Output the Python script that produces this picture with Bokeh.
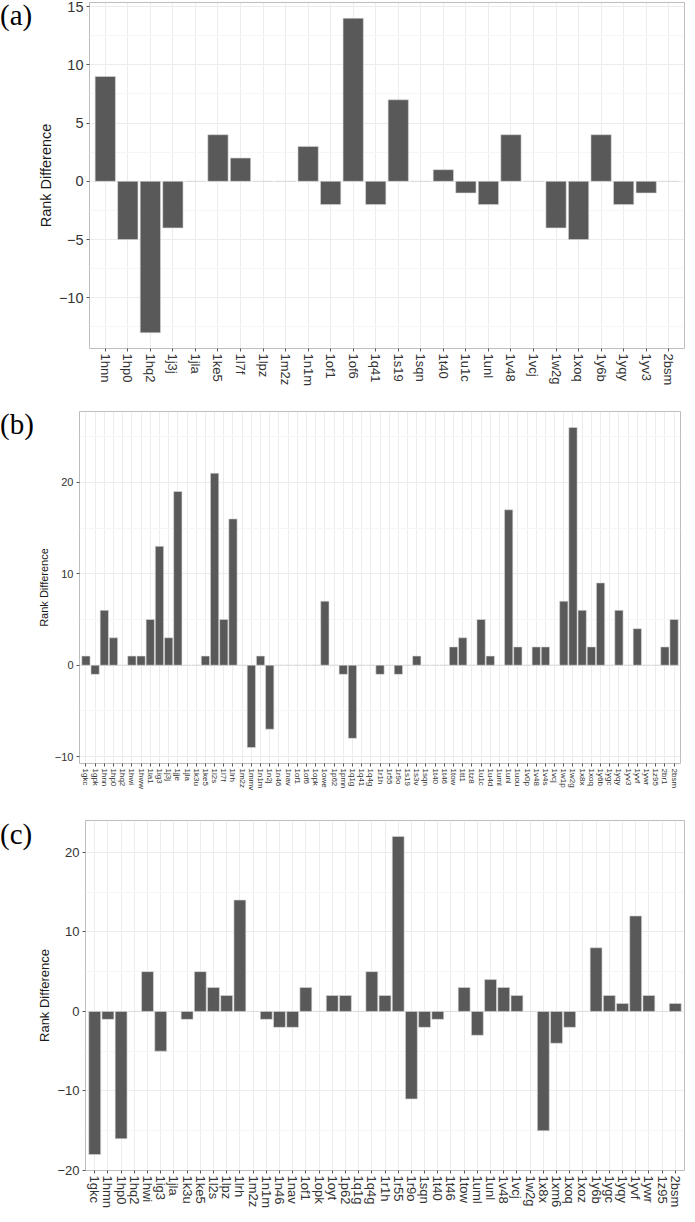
import math
from bokeh.plotting import figure
from bokeh.layouts import column, row
from bokeh.models import FactorRange, Range1d, FixedTicker, Div
from bokeh.embed import file_html
from bokeh.resources import INLINE

# ---------------- data ----------------
a_cats = ["1hnn", "1hp0", "1hq2", "1j3j", "1jla", "1ke5", "1l7f", "1lpz", "1m2z", "1n1m",
          "1of1", "1of6", "1q41", "1s19", "1sqn", "1t40", "1u1c", "1unl", "1v48", "1vcj",
          "1w2g", "1xoq", "1y6b", "1yqy", "1yv3", "2bsm"]
a_vals = [9, -5, -13, -4, 0, 4, 2, 0, 0, 3,
          -2, 14, -2, 7, 0, 1, -1, -2, 4, 0,
          -4, -5, 4, -2, -1, 0]
a_ticks = [-10, -5, 0, 5, 10, 15]
a_minor = [-12.5, -7.5, -2.5, 2.5, 7.5, 12.5]

b_cats = ["1gkc", "1gpk", "1hnn", "1hp0", "1hq2", "1hwi", "1hww", "1ia1", "1ig3", "1j3j",
          "1jje", "1jla", "1k3u", "1ke5", "1l2s", "1l7f", "1lrh", "1m2z", "1mmv", "1n1m",
          "1n2j", "1n46", "1nav", "1of1", "1of6", "1opk", "1owe", "1p62", "1pmn", "1q1g",
          "1q41", "1q4g", "1r1h", "1r55", "1r9o", "1s19", "1s3v", "1sqn", "1t40", "1t46",
          "1tow", "1tt1", "1tz8", "1u1c", "1u4d", "1uml", "1unl", "1uou", "1v0p", "1v48",
          "1v4s", "1vcj", "1w1p", "1w2g", "1x8x", "1xoq", "1y6b", "1ygc", "1yqy", "1yv3",
          "1yvf", "1ywr", "1z95", "2br1", "2bsm"]
b_vals = [1, -1, 6, 3, 0, 1, 1, 5, 13, 3,
          19, 0, 0, 1, 21, 5, 16, 0, -9, 1,
          -7, 0, 0, 0, 0, 0, 7, 0, -1, -8,
          0, 0, -1, 0, -1, 0, 1, 0, 0, 0,
          2, 3, 0, 5, 1, 0, 17, 2, 0, 2,
          2, 0, 7, 26, 6, 2, 9, 0, 6, 0,
          4, 0, 0, 2, 5]
b_ticks = [-10, 0, 10, 20]
b_minor = [-5, 5, 15, 25]

c_cats = ["1gkc", "1hmn", "1hp0", "1hq2", "1hwi", "1ig3", "1jla", "1k3u", "1ke5", "1l2s",
          "1lpz", "1lrh", "1m2z", "1n1m", "1n46", "1nav", "1of1", "1opk", "1oyt", "1p62",
          "1q1g", "1q4g", "1r1h", "1r55", "1r9o", "1sqn", "1t40", "1t46", "1tow", "1uml",
          "1unl", "1v48", "1vcj", "1w2g", "1x8x", "1xm6", "1xoq", "1xoz", "1y6b", "1ygc",
          "1yqy", "1yvf", "1ywr", "1z95", "2bsm"]
c_vals = [-18, -1, -16, 0, 5, -5, 0, -1, 5, 3,
          2, 14, 0, -1, -2, -2, 3, 0, 2, 2,
          0, 5, 2, 22, -11, -2, -1, 0, 3, -3,
          4, 3, 2, 0, -15, -4, -2, 0, 8, 2,
          1, 12, 2, 0, 1]
c_ticks = [-20, -10, 0, 10, 20]
c_minor = [-15, -5, 5, 15]

TAGW = 34


def panel(cats, vals, ticks, minor, tag, fw, fh, left, top, bottom, right,
          yfs, titlefs, xfs, tag_pad):
    span = max(vals) - min(vals)
    lo = min(vals) - 0.05 * span
    hi = max(vals) + 0.05 * span
    p = figure(x_range=FactorRange(factors=cats, range_padding=0.2,
                                   range_padding_units="absolute"),
               y_range=Range1d(lo, hi),
               frame_width=fw, frame_height=fh,
               min_border_left=left - TAGW, min_border_top=top,
               min_border_bottom=bottom, min_border_right=right,
               output_backend="svg", toolbar_location=None, tools="")
    p.vbar(x=cats, top=vals, bottom=0, width=0.9,
           fill_color="#595959", line_color="#d9d9d9", line_width=0.6)

    p.background_fill_color = "white"
    p.border_fill_color = "white"
    p.outline_line_color = "#bdbdbd"
    p.outline_line_width = 1

    p.xgrid.grid_line_color = "#ececec"
    p.ygrid.grid_line_color = "#ececec"
    p.ygrid.minor_grid_line_color = "#f6f6f6"

    p.yaxis.ticker = FixedTicker(ticks=ticks, minor_ticks=minor)
    for ax in (p.xaxis[0], p.yaxis[0]):
        ax.axis_line_color = None
        ax.major_tick_line_color = "#555555"
        ax.major_tick_out = 3
        ax.major_tick_in = 0
        ax.minor_tick_line_color = None
        ax.major_label_text_color = "#333333"
        ax.major_label_text_font = "Liberation Sans"
        ax.major_label_standoff = 2

    p.yaxis.major_label_text_font_size = yfs
    p.yaxis.axis_label = "Rank Difference"
    p.yaxis.axis_label_text_font = "Liberation Sans"
    p.yaxis.axis_label_text_font_style = "normal"
    p.yaxis.axis_label_text_font_size = titlefs
    p.yaxis.axis_label_text_color = "#1a1a1a"
    p.yaxis.axis_label_standoff = 2

    p.xaxis.major_label_text_font_size = xfs
    p.xaxis.major_label_orientation = -math.pi / 2

    h = top + fh + bottom
    d = Div(text=('<div style="font-family:Liberation Serif,Times New Roman,Times,serif;'
                  'font-size:29px;line-height:1;color:black;'
                  'padding-top:%dpx;margin:0;white-space:nowrap">%s</div>' % (tag_pad, tag)),
            styles={"font-family": "Liberation Serif, Times New Roman, Times, serif"},
            width=TAGW, height=h, margin=(0, 0, 0, 0))
    return row(d, p, spacing=0, margin=(0, 0, 0, 0))


pa = panel(a_cats, a_vals, a_ticks, a_minor, "(a)", 595, 346, 82, 2, 45, 2,
           "14.5px", "14.5px", "13px", 1)
pb = panel(b_cats, b_vals, b_ticks, b_minor, "(b)", 601, 352, 76, 18, 27, 2,
           "11px", "11px", "8px", 17)
pc = panel(c_cats, c_vals, c_ticks, c_minor, "(c)", 599, 350, 78, 27, 39, 2,
           "13px", "13px", "13px", 27)

layout = column(pa, pb, pc, spacing=0)
open("out.html", "w").write(file_html(layout, INLINE))
